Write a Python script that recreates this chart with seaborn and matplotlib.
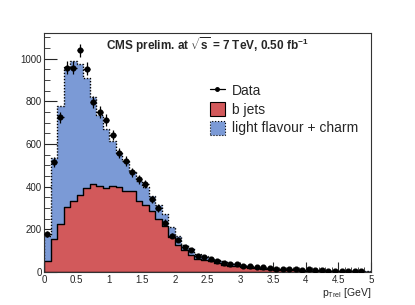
import numpy as np
import pandas as pd
import matplotlib
matplotlib.use("Agg")
import matplotlib.pyplot as plt
import seaborn as sns
from matplotlib.patches import Patch
from matplotlib.lines import Line2D
from matplotlib.ticker import MultipleLocator

# p_Trel bins: 0 - 5 GeV, 0.1 GeV wide
bin_edges = np.round(np.arange(0, 5.01, 0.1), 2)
bin_centers = (bin_edges[:-1] + bin_edges[1:]) / 2

b_jets = [50, 155, 227, 305, 335, 363, 396, 413, 402, 394,
          405, 399, 382, 382, 333, 316, 285, 250, 215, 162,
          128, 102, 82, 63, 58, 50, 43, 35, 30, 27,
          24, 20, 17, 15, 13, 11, 10, 9, 8, 7,
          6, 5, 5, 4, 4, 3, 3, 3, 2, 2]

# b jets + light flavour + charm (top of the stack)
stack_total = [167, 535, 776, 960, 987, 976, 909, 822, 736, 668,
               613, 558, 519, 468, 428, 398, 355, 316, 272, 210,
               170, 128, 113, 85, 77, 66, 58, 50, 42, 37,
               32, 28, 24, 21, 18, 16, 14, 12, 11, 10,
               9, 8, 7, 6, 5, 5, 4, 4, 3, 3]

data_counts = [178, 514, 725, 957, 957, 1038, 953, 797, 749, 712,
               642, 558, 521, 468, 434, 413, 340, 300, 232, 171,
               152, 118, 102, 74, 69, 61, 53, 43, 38, 36,
               30, 27, 24, 22, 18, 16, 14, 13, 12, 10,
               12, 9, 8, 7, 6, 5, 4, 5, 4, 0]

df = pd.DataFrame({"ptrel": bin_centers, "b": b_jets,
                   "total": stack_total, "data": data_counts})

sns.set_style("ticks")
plt.rcParams["font.family"] = ["Liberation Sans", "DejaVu Sans"]
plt.rcParams["mathtext.fontset"] = "custom"
plt.rcParams["mathtext.rm"] = "Liberation Sans"
plt.rcParams["mathtext.it"] = "Liberation Sans"
plt.rcParams["mathtext.bf"] = "Liberation Sans:bold"
plt.rcParams["mathtext.default"] = "regular"

blue = "#7b9ad6"
red = "#d2595b"

fig = plt.figure(figsize=(4.15, 3.05), dpi=100)
ax = fig.add_axes([0.106, 0.108, 0.788, 0.784])

sns.histplot(data=df, x="ptrel", weights="total", binwidth=0.1, binrange=(0, 5),
             element="step", fill=True, color=blue, alpha=1, edgecolor="black",
             linewidth=1.0, linestyle=(0, (1, 1.2)), ax=ax)
sns.histplot(data=df, x="ptrel", weights="b", binwidth=0.1, binrange=(0, 5),
             element="step", fill=True, color=red, alpha=1, edgecolor="black",
             linewidth=1.0, ax=ax)

d = df[df["data"] > 0]
ax.errorbar(d["ptrel"], d["data"], yerr=np.sqrt(d["data"]), xerr=0.05,
            fmt="o", ms=3.4, color="black", elinewidth=0.9, capsize=0, zorder=5)

ax.set_xlim(0, 5)
ax.set_ylim(0, 1120)
ax.xaxis.set_minor_locator(MultipleLocator(0.1))
ax.yaxis.set_major_locator(MultipleLocator(200))
ax.yaxis.set_minor_locator(MultipleLocator(50))
ax.set_xticks(np.arange(0, 5.01, 0.5))
ax.set_xticklabels(["0", "0.5", "1", "1.5", "2", "2.5", "3", "3.5", "4", "4.5", "5"])
ax.tick_params(axis="both", which="both", direction="in", labelsize=7)
ax.tick_params(axis="y", which="major", length=9, pad=1.5)
ax.tick_params(axis="y", which="minor", length=4.5)
ax.tick_params(axis="x", which="major", length=7, pad=2)
ax.tick_params(axis="x", which="minor", length=3.5)
for s in ax.spines.values():
    s.set_linewidth(0.8)
    s.set_color("#333333")

ax.set_ylabel("")
ax.set_xlabel(r"p$_{Trel}$ [GeV]", fontsize=7.5, loc="right", labelpad=1)

ax.text(0.5, 0.99, r"CMS prelim. at $\sqrt{s}$ = 7 TeV, 0.50 fb$^{-1}$",
        transform=ax.transAxes, ha="center", va="top", fontsize=8.5, fontweight="bold")

handles = [Line2D([], [], color="black", marker="o", ms=2.5, lw=0.9),
           Patch(facecolor=red, edgecolor="black", linewidth=0.8),
           Patch(facecolor=blue, edgecolor="black", linewidth=0.8, linestyle=":")]
labels = ["Data", "b jets", "light flavour + charm"]
ax.legend(handles, labels, loc="upper left", bbox_to_anchor=(0.49, 0.815),
          frameon=False, fontsize=10, handlelength=1.1, handleheight=1.2,
          handletextpad=0.5, labelspacing=0.3, borderaxespad=0)

fig.savefig("out.png", dpi=100)
